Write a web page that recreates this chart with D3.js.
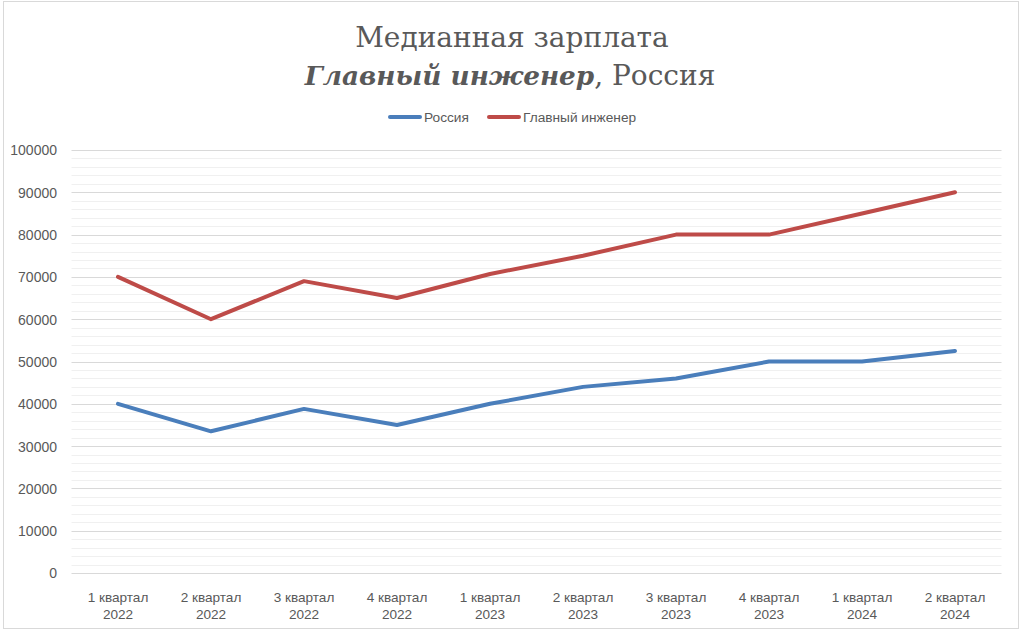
<!DOCTYPE html>
<html><head><meta charset="utf-8">
<script src="https://cdn.jsdelivr.net/npm/d3@7"></script>
<style>body{margin:0;background:#fff}svg{display:block}</style>
</head><body>
<svg id="c" width="1024" height="633"></svg>
<script>
const categories = ["1 квартал|2022","2 квартал|2022","3 квартал|2022","4 квартал|2022","1 квартал|2023","2 квартал|2023","3 квартал|2023","4 квартал|2023","1 квартал|2024","2 квартал|2024"];
const russia = [40000,33500,38800,35000,40000,44000,46000,50000,50000,52500];
const engineer = [70000,60000,69000,65000,70700,75000,80000,80000,85000,90000];
const seriesNames = ["Россия","Главный инженер"];
const seriesColors = ["#4a7ebb","#be4b48"];
const yTicks = [0,10000,20000,30000,40000,50000,60000,70000,80000,90000,100000];
const yMinor = d3.range(0,100001,2000);

(function(){
const svg = d3.select("#c");
const pL=71.5, pR=1001.5, pT=150, pB=573;
svg.append("rect").attr("x",3.5).attr("y",1.5).attr("width",1015).attr("height",627).attr("fill","#fff").attr("stroke","#d9d9d9");

const x = d3.scaleBand().domain(categories).range([pL,pR]);
const y = d3.scaleLinear().domain([0,100000]).range([pB,pT]);

const g = svg.append("g");
g.selectAll(".minor").data(yMinor.filter(v=>v%10000!==0)).join("line")
 .attr("x1",pL).attr("x2",pR).attr("y1",d=>Math.round(y(d))+0.5).attr("y2",d=>Math.round(y(d))+0.5)
 .attr("stroke","#f0f0f0").attr("stroke-width",1);
g.selectAll(".major").data(yTicks).join("line")
 .attr("x1",pL).attr("x2",pR).attr("y1",d=>Math.round(y(d))+0.5).attr("y2",d=>Math.round(y(d))+0.5)
 .attr("stroke","#d9d9d9").attr("stroke-width",1);

const font = "'Liberation Sans', Arial, sans-serif";
const yAxis = d3.axisLeft(y).tickValues(yTicks).tickSize(0).tickPadding(0).tickFormat(d=>String(d));
const ya = svg.append("g").attr("transform",`translate(57,0)`).call(yAxis);
ya.select(".domain").remove();
ya.selectAll("text").attr("font-family",font).attr("font-size",14).attr("fill","#595959").attr("dy","0.35em");

const xAxis = d3.axisBottom(x).tickSize(0).tickFormat(()=>"");
const xa = svg.append("g").attr("transform",`translate(0,${pB})`).call(xAxis);
xa.select(".domain").remove();
xa.selectAll(".tick").each(function(d){
  const parts = d.split("|");
  const t = d3.select(this).append("text").attr("font-family",font).attr("font-size",13.6).attr("fill","#595959").attr("text-anchor","middle");
  t.append("tspan").attr("x",0).attr("y",29).text(parts[0]);
  t.append("tspan").attr("x",0).attr("y",46).text(parts[1]);
});

const line = d3.line().x((d,i)=>x(categories[i])+x.bandwidth()/2).y(d=>y(d));
[russia,engineer].forEach((s,i)=>{
  svg.append("path").attr("d",line(s)).attr("fill","none").attr("stroke",seriesColors[i])
   .attr("stroke-width",4).attr("stroke-linecap","round").attr("stroke-linejoin","round");
});

const leg = [{x:388},{x:487}];
seriesNames.forEach((n,i)=>{
  svg.append("line").attr("x1",leg[i].x+2).attr("x2",leg[i].x+32).attr("y1",117).attr("y2",117)
   .attr("stroke",seriesColors[i]).attr("stroke-width",4).attr("stroke-linecap","round");
  svg.append("text").attr("x",leg[i].x+36).attr("y",117).attr("dy","0.35em").attr("font-family",font)
   .attr("font-size",13.7).attr("fill","#595959").text(n);
});

const tf = "'DejaVu Serif', 'Liberation Serif', serif";
svg.append("text").attr("x",512).attr("y",47).attr("text-anchor","middle").attr("font-family",tf)
 .attr("font-size",28).attr("fill","#595959").text("Медианная зарплата");
const t2 = svg.append("text").attr("x",510).attr("y",85).attr("text-anchor","middle").attr("font-family",tf)
 .attr("font-size",28).attr("fill","#595959");
t2.append("tspan").attr("font-weight","bold").attr("font-style","italic").attr("font-size",26.3).text("Главный инженер");
t2.append("tspan").text(", Россия");
})();
</script>
</body></html>
